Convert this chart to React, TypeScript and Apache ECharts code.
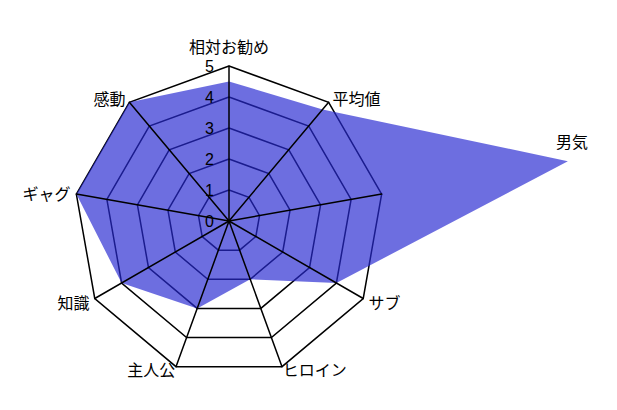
import React, { useEffect, useRef } from 'react';
import * as echarts from 'echarts';

// indicators, counter-clockwise from the top (ECharts order)
const indicatorNames = ['相対お勧め', '感動', 'ギャグ', '知識', '主人公', 'ヒロイン', 'サブ', '男気', '平均値'];
const scores = [4.5, 5, 5, 4, 3, 2, 4, 11.1, 4.7];
const scaleMax = 5;
const tickStep = 1;

const FONT = '"Noto Sans CJK JP", "Noto Sans", sans-serif';
const DIGIT_FONT = '"Liberation Sans", Arial, sans-serif';

// gap between the outer ring and some names
const nameGaps: Record<string, number> = { 相対お勧め: 12, 主人公: 2, ヒロイン: 2 };

const App: React.FC = () => {
  const chartRef = useRef<HTMLDivElement>(null);

  useEffect(() => {
    if (!chartRef.current) return;
    const chart = echarts.init(chartRef.current, null, { renderer: 'svg' });

    const center = [229, 221];
    const radius = 155;

    // 男気 label sits out near its data point, drawn separately
    const gridIndicators = indicatorNames.map((name) => ({
      name: name === '男気' ? '' : name,
      min: 0,
      max: scaleMax,
      ...(nameGaps[name] != null ? { nameGap: nameGaps[name] } : {}),
    }));
    const axisIndicators = indicatorNames.map((name, i) => ({
      name,
      min: 0,
      max: scaleMax,
      ...(i === 0 ? { axisLabel: { show: true } } : {}),
    }));

    const options = {
      animation: false,
      textStyle: { fontFamily: FONT },
      radar: [
        {
          // rings, under the filled area
          center,
          radius,
          shape: 'polygon',
          splitNumber: scaleMax / tickStep,
          nameGap: 6,
          axisName: { color: '#000', fontSize: 16, lineHeight: 17, fontFamily: FONT },
          axisLine: { show: false },
          splitLine: { lineStyle: { color: '#000', width: 1.5 } },
          splitArea: { show: false },
          indicator: gridIndicators,
        },
        {
          // spokes and tick numbers, above the filled area
          center,
          radius,
          shape: 'polygon',
          splitNumber: scaleMax / tickStep,
          z: 3,
          axisName: { show: false },
          axisLine: { show: true, lineStyle: { color: '#000', width: 1.5 } },
          splitLine: { show: false },
          splitArea: { show: false },
          axisLabel: {
            show: false,
            color: '#000',
            fontSize: 16,
            lineHeight: 16,
            fontFamily: DIGIT_FONT,
            margin: 15,
          },
          indicator: axisIndicators,
        },
      ],
      graphic: [
        {
          type: 'text',
          left: 556,
          top: 133,
          style: { text: '男気', fill: '#000', font: `16px ${FONT}` },
        },
      ],
      series: [
        {
          type: 'radar',
          radarIndex: 0,
          z: 2,
          symbol: 'none',
          lineStyle: { width: 0, opacity: 0 },
          areaStyle: { color: 'rgb(40, 42, 210)', opacity: 0.68 },
          data: [{ value: scores, name: '評価' }],
        },
      ],
    };

    chart.setOption(options);

    return () => {
      chart.dispose();
    };
  }, []);

  return (
    <div
      ref={chartRef}
      style={{ position: 'fixed', left: 0, top: 0, width: '617px', height: '410px', background: '#fff' }}
    />
  );
};

export default App;
